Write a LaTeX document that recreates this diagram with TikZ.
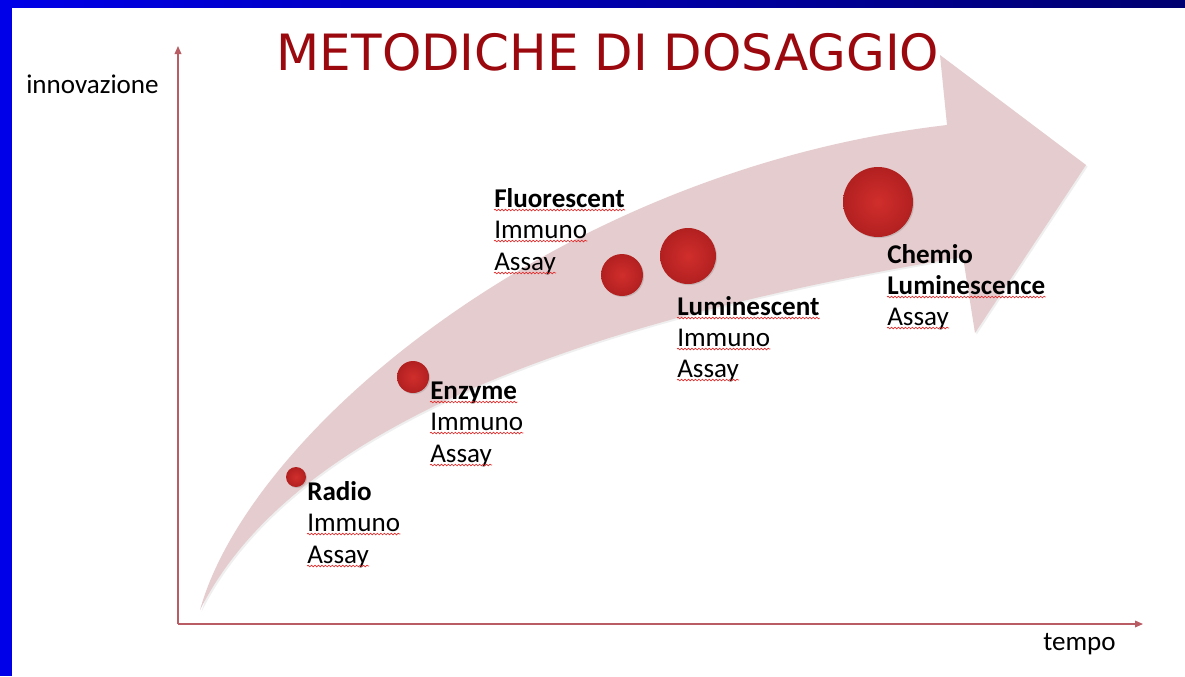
\documentclass[tikz,border=0pt]{standalone}
\usepackage{fontspec}
\setmainfont{Carlito}
\newfontfamily\titlefont{DejaVu Sans}
\usepackage{tikz}
\usetikzlibrary{arrows.meta,calc,decorations.pathmorphing,shadows}

\definecolor{frameblue}{RGB}{0,0,232}
\definecolor{framenavy}{RGB}{0,0,112}
\definecolor{titlered}{RGB}{155,8,14}
\definecolor{axisred}{RGB}{185,92,100}
\definecolor{bandpink}{RGB}{229,204,206}
\definecolor{dotred}{RGB}{208,46,44}
\definecolor{dotdark}{RGB}{178,32,32}
\definecolor{squigred}{RGB}{225,45,45}

\begin{document}
\begin{tikzpicture}[x=0.75pt,y=0.75pt,yscale=-1,xscale=1,
    lbl/.style={anchor=base west,inner sep=0pt,text=black,font=\fontsize{20.3}{24}\selectfont},
    dot/.style={circle,inner sep=0pt,shading=radial,inner color=dotred,outer color=dotdark,
        drop shadow={shadow xshift=0.8pt,shadow yshift=-0.8pt,opacity=0.3}},
    squig/.style={squigred,line width=0.5pt,decorate,decoration={snake,amplitude=0.6pt,segment length=2.6pt}},
    axis/.style={axisred,line width=0.9pt,-{Triangle[length=6pt,width=5pt]}}]
        \useasboundingbox (0,0) rectangle (1185,676);

        %Shape: Frame
        \fill [white] (0,0) rectangle (1185,676);
        \shade [left color=frameblue,right color=framenavy] (0,0) rectangle (1185,7);
        \fill [frameblue] (0,0) rectangle (12,676);

        %Shape: Curved Arrow
        \path [fill=bandpink,drop shadow={shadow xshift=1.2pt,shadow yshift=-1.2pt,opacity=0.12}] (200,610) .. controls (280,450) and (520,330) .. (963,257) -- (975,333) -- (1086,165) -- (940,55) -- (947,125) .. controls (560,170) and (250,430) .. cycle ;

        %Straight Lines
        \coordinate (origin) at (178,624);
        \coordinate (ytip) at (178,46);
        \coordinate (xtip) at (1143,624);
        \draw [axis] (origin) -- (ytip) ;
        \draw [axis] (origin) -- (xtip) ;

        % Text Node
        \draw (608,52) node [inner sep=0pt,text=titlered,font=\titlefont\fontsize{37.5}{40}\selectfont] (title) {METODICHE DI DOSAGGIO};
        % Text Node
        \draw (26,93) node [lbl] (ylab) {innovazione};
        % Text Node
        \draw (1043,650) node [lbl] (xlab) {tempo};

        %Shape: Circle
        \draw (296,477) node [dot,minimum size=15pt] (radiodot) {};
        \draw (413,377) node [dot,minimum size=24pt] (enzymedot) {};
        \draw (622,275) node [dot,minimum size=31.5pt] (fluodot) {};
        \draw (688,256) node [dot,minimum size=42pt] (lumidot) {};
        \draw (878,202) node [dot,minimum size=52.5pt] (chemidot) {};

        % Text Node
        \draw (307,500) node [lbl] (radio1) {\bfseries Radio};
        \draw (307,531) node [lbl] (radio2) {Immuno};
        \draw (307,563) node [lbl] (radio3) {Assay};
        % Text Node
        \draw (430,399) node [lbl] (enzyme1) {\bfseries Enzyme};
        \draw (430,430) node [lbl] (enzyme2) {Immuno};
        \draw (430,462) node [lbl] (enzyme3) {Assay};
        % Text Node
        \draw (494,207) node [lbl] (fluo1) {\bfseries Fluorescent};
        \draw (494,238) node [lbl] (fluo2) {Immuno};
        \draw (494,270) node [lbl] (fluo3) {Assay};
        % Text Node
        \draw (677,315) node [lbl] (lumi1) {\bfseries Luminescent};
        \draw (677,346) node [lbl] (lumi2) {Immuno};
        \draw (677,377) node [lbl] (lumi3) {Assay};
        % Text Node
        \draw (887,263) node [lbl] (chemi1) {\bfseries Chemio};
        \draw (887,294) node [lbl] (chemi2) {\bfseries Luminescence};
        \draw (887,325) node [lbl] (chemi3) {Assay};

        %Spell check underlines
        \draw [squig] ($(radio2.base west)+(0,3)$) -- ($(radio2.base east)+(0,3)$) ;
        \draw [squig] ($(radio3.base west)+(0,3)$) -- ($(radio3.base east)+(0,3)$) ;
        \draw [squig] ($(enzyme1.base west)+(0,3)$) -- ($(enzyme1.base east)+(0,3)$) ;
        \draw [squig] ($(enzyme2.base west)+(0,3)$) -- ($(enzyme2.base east)+(0,3)$) ;
        \draw [squig] ($(enzyme3.base west)+(0,3)$) -- ($(enzyme3.base east)+(0,3)$) ;
        \draw [squig] ($(fluo1.base west)+(0,3)$) -- ($(fluo1.base east)+(0,3)$) ;
        \draw [squig] ($(fluo2.base west)+(0,3)$) -- ($(fluo2.base east)+(0,3)$) ;
        \draw [squig] ($(fluo3.base west)+(0,3)$) -- ($(fluo3.base east)+(0,3)$) ;
        \draw [squig] ($(lumi1.base west)+(0,3)$) -- ($(lumi1.base east)+(0,3)$) ;
        \draw [squig] ($(lumi2.base west)+(0,3)$) -- ($(lumi2.base east)+(0,3)$) ;
        \draw [squig] ($(lumi3.base west)+(0,3)$) -- ($(lumi3.base east)+(0,3)$) ;
        \draw [squig] ($(chemi2.base west)+(0,3)$) -- ($(chemi2.base east)+(0,3)$) ;
        \draw [squig] ($(chemi3.base west)+(0,3)$) -- ($(chemi3.base east)+(0,3)$) ;

    \end{tikzpicture}
\end{document}
